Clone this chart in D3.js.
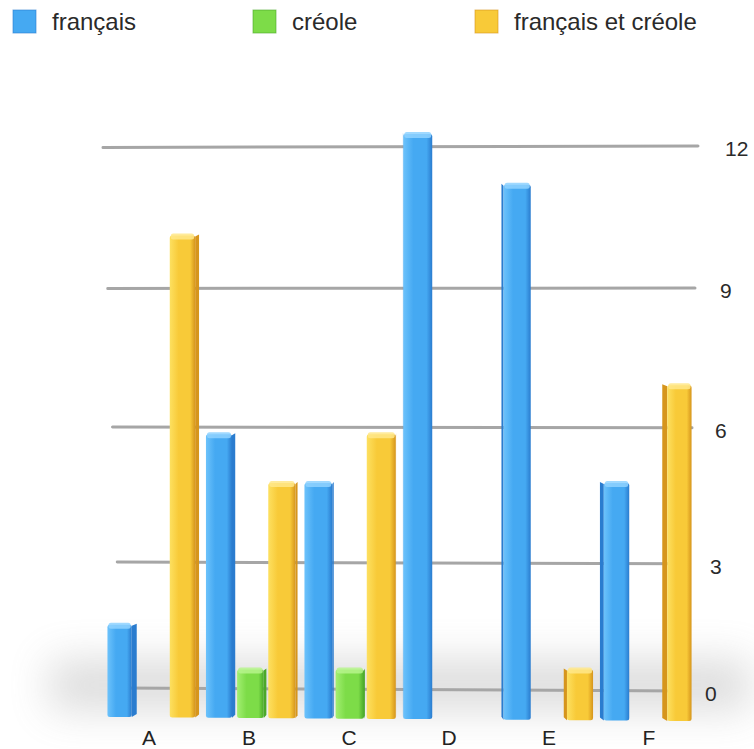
<!DOCTYPE html>
<html lang="fr">
<head>
  <meta charset="UTF-8">
  <title>français / créole</title>
  <script src="https://d3js.org/d3.v7.min.js"></script>
  <style>
    html, body {
      margin: 0;
      padding: 0;
      background: #fff;
    }
    svg {
      display: block;
      font-family: "Liberation Sans", Arial, Helvetica, sans-serif;
    }
    .legend text {
      font-size: 24px;
      fill: #2a2a2a;
    }
    .tick-label {
      font-size: 21px;
      fill: #2a2a2a;
    }
    .cat-label {
      font-size: 21px;
      fill: #222;
      text-anchor: middle;
    }
    .grid {
      stroke: #a6a6a6;
      stroke-width: 3;
      stroke-linecap: round;
    }
  </style>
</head>
<body>
  <svg width="754" height="749"></svg>

  <script>
    // données
    const categories = ['A', 'B', 'C', 'D', 'E', 'F'];
    const seriesNames = ['français', 'créole', 'français et créole'];
    const francais = [2, 6, 5, 12, 11, 5];
    const creole = [0, 1, 1, 0, 0, 0];
    const francaisCreole = [10, 5, 6, 0, 1, 7];
    const yTicks = [0, 3, 6, 9, 12];

    const colors = {
      'français': { base: '#45a9f2', light: '#6cc2fb', dark: '#2a7ccf', top: '#8fd2ff' },
      'créole': { base: '#7ddc48', light: '#a3ef72', dark: '#4aa82a', top: '#b6f58c' },
      'français et créole': { base: '#f8ca38', light: '#fde060', dark: '#d6951c', top: '#ffe88a' }
    };

    const seriesValues = [francais, creole, francaisCreole];
    const rows = [];
    categories.forEach((cat, i) => {
      seriesNames.forEach((s, j) => {
        rows.push({ cat, series: s, value: seriesValues[j][i] });
      });
    });

    const svg = d3.select('svg');
    const defs = svg.append('defs');

    // dégradés des faces avant
    Object.entries(colors).forEach(([name, c], i) => {
      const g = defs.append('linearGradient')
        .attr('id', 'grad' + i)
        .attr('x1', '0%').attr('x2', '100%').attr('y1', '0%').attr('y2', '0%');
      g.append('stop').attr('offset', '0%').attr('stop-color', c.light);
      g.append('stop').attr('offset', '35%').attr('stop-color', c.base);
      g.append('stop').attr('offset', '80%').attr('stop-color', c.base);
      g.append('stop').attr('offset', '100%').attr('stop-color', c.dark);
    });
    const gradId = s => 'url(#grad' + seriesNames.indexOf(s) + ')';

    defs.append('filter')
      .attr('id', 'soft')
      .attr('x', '-30%').attr('y', '-100%').attr('width', '160%').attr('height', '300%')
      .append('feGaussianBlur')
      .attr('stdDeviation', 20);

    // mur du fond : lignes de grille en perspective
    const gridLeftX = d3.scaleLinear().domain([0, 12]).range([122, 103]);
    const gridRightX = d3.scaleLinear().domain([0, 12]).range([686, 698]);
    const gridLeftY = d3.scalePow().exponent(1.05).domain([0, 12]).range([688, 147.5]);
    const gridRightY = d3.scalePow().exponent(1.05).domain([0, 12]).range([691, 146]);
    const tickX = d3.scaleLinear().domain([0, 12]).range([705, 725]);

    // ombre au sol
    svg.append('rect')
      .attr('x', 50)
      .attr('y', 660)
      .attr('width', 700)
      .attr('height', 50)
      .attr('fill', '#8c8c8c')
      .attr('opacity', 0.3)
      .attr('filter', 'url(#soft)');

    svg.append('g')
      .selectAll('line')
      .data(yTicks)
      .join('line')
      .attr('class', 'grid')
      .attr('x1', d => gridLeftX(d))
      .attr('y1', d => gridLeftY(d))
      .attr('x2', d => gridRightX(d))
      .attr('y2', d => gridRightY(d));

    svg.append('g')
      .selectAll('text')
      .data(yTicks)
      .join('text')
      .attr('class', 'tick-label')
      .attr('x', d => tickX(d))
      .attr('y', d => gridRightY(d) + 3)
      .attr('dy', '0.35em')
      .text(d => d);

    // barres
    const xBars = d3.scaleBand()
      .domain(categories)
      .range([104, 695])
      .paddingInner(0.07)
      .paddingOuter(0.035);
    const xSub = d3.scaleBand()
      .domain(seriesNames)
      .range([0, xBars.bandwidth()])
      .paddingInner(0.06);
    const yBar = d3.scalePow().exponent(1.06).domain([0, 12]).range([709, 132]);
    const yFloor = d3.scaleLinear().domain([104, 695]).range([717, 721]);
    const centerX = 400;

    const bars = rows.filter(d => d.value > 0)
      .map(d => {
        const x = xBars(d.cat) + xSub(d.series);
        const w = xSub.bandwidth();
        const cx = x + w / 2;
        const side = Math.abs(cx - centerX) * 0.018;
        return { ...d, x, w, cx, side, top: yBar(d.value), bottom: yFloor(cx) };
      });

    const barG = svg.append('g')
      .selectAll('g')
      .data(bars)
      .join('g');

    // face latérale (côté tourné vers le centre)
    barG.append('path')
      .attr('fill', d => colors[d.series].dark)
      .attr('d', d => {
        const front = d.w - d.side;
        if (d.cx < centerX) {
          const xr = d.x + front;
          return `M${xr},${d.top + 3}L${xr + d.side},${d.top + 1}L${xr + d.side},${d.bottom - 3}L${xr},${d.bottom}Z`;
        }
        const xl = d.x + d.side;
        return `M${xl},${d.top + 3}L${xl - d.side},${d.top + 1}L${xl - d.side},${d.bottom - 3}L${xl},${d.bottom}Z`;
      });

    // face avant
    barG.append('rect')
      .attr('x', d => d.cx < centerX ? d.x : d.x + d.side)
      .attr('y', d => d.top + 2)
      .attr('width', d => d.w - d.side)
      .attr('height', d => d.bottom - d.top - 2)
      .attr('rx', 2.5)
      .attr('fill', d => gradId(d.series));

    // dessus
    barG.append('rect')
      .attr('x', d => (d.cx < centerX ? d.x : d.x + d.side) + 1)
      .attr('y', d => d.top)
      .attr('width', d => d.w - d.side - 2)
      .attr('height', 6)
      .attr('rx', 2.5)
      .attr('fill', d => colors[d.series].top)
      .attr('opacity', 0.85);

    // étiquettes des catégories
    const xLabels = d3.scaleBand().domain(categories).range([99, 699]);
    svg.append('g')
      .selectAll('text')
      .data(categories)
      .join('text')
      .attr('class', 'cat-label')
      .attr('x', d => xLabels(d) + xLabels.bandwidth() / 2)
      .attr('y', 745)
      .text(d => d);

    // légende
    const legendX = d3.scaleOrdinal().domain(seriesNames).range([13, 253, 475]);
    const legend = svg.append('g')
      .attr('class', 'legend')
      .selectAll('g')
      .data(seriesNames)
      .join('g')
      .attr('transform', d => `translate(${legendX(d)},10)`);

    legend.append('rect')
      .attr('width', 23)
      .attr('height', 23)
      .attr('fill', d => colors[d].base)
      .attr('stroke', d => colors[d].dark)
      .attr('stroke-width', 1)
      .attr('stroke-opacity', 0.6);

    legend.append('text')
      .attr('x', 39)
      .attr('y', 12)
      .attr('dy', '0.35em')
      .text(d => d);
  </script>
</body>
</html>
